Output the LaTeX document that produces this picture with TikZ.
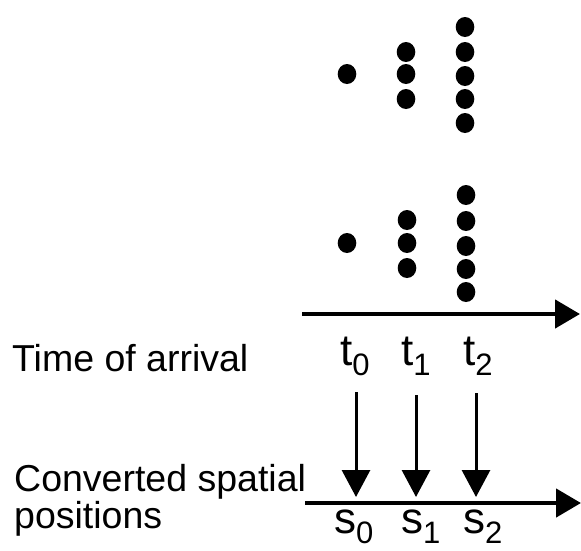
\documentclass[tikz,border=0pt]{standalone}
\usepackage{fontspec}
\setmainfont{Liberation Sans}
\usetikzlibrary{arrows.meta}
\newcommand{\sublbl}[2]{#1\raisebox{-10pt}{\fontsize{31}{31}\selectfont #2}}
\begin{document}
\begin{tikzpicture}[x=1pt,y=-1pt,
  dot/.style={fill=black},
  axis/.style={line width=4.6pt,-{Triangle[length=25pt,width=28pt]}},
  conv/.style={line width=3pt,-{Triangle[length=27pt,width=28pt]}},
  bigtext/.style={anchor=base west,inner sep=0pt,font=\fontsize{37.5}{37.5}\selectfont},
  tlabel/.style={anchor=base west,inner sep=0pt,font=\fontsize{44}{44}\selectfont}]
\useasboundingbox (0,0) rectangle (581,550);
% top group of dots
\foreach \x/\y in {347/74, 406/52, 406/74, 406/99, 465/27, 465/52, 465/76, 465/99, 465/123}
  \fill[dot] (\x,\y) ellipse [x radius=9.3, y radius=10];
% lower group of dots
\foreach \x/\y in {347/243, 407/220, 407/243, 407/268, 466/195, 466/221, 466/246, 466/269, 466/292}
  \fill[dot] (\x,\y) ellipse [x radius=9.3, y radius=10];
% time axis
\coordinate (ta0) at (302,314);
\coordinate (ta1) at (580,314);
\draw[axis] (ta0) -- (ta1);
% labels
\node[bigtext] (toa) at (12,371.5) {Time of arrival};
\node[bigtext] (conv1) at (14,491.5) {Converted spatial};
\node[bigtext] (conv2) at (14,528.5) {positions};
\node[tlabel] (t0) at (340,365) {\sublbl{t}{0}};
\node[tlabel] (t1) at (401,365) {\sublbl{t}{1}};
\node[tlabel] (t2) at (463,365) {\sublbl{t}{2}};
\node[tlabel] (s0) at (334,533) {\sublbl{s}{0}};
\node[tlabel] (s1) at (401,533) {\sublbl{s}{1}};
\node[tlabel] (s2) at (463,533) {\sublbl{s}{2}};
% conversion arrows
\coordinate (a0) at (356,392);
\coordinate (b0) at (356,497);
\coordinate (a1) at (416,395);
\coordinate (b1) at (416,497);
\coordinate (a2) at (476,393);
\coordinate (b2) at (476,497);
\draw[conv] (a0) -- (b0);
\draw[conv] (a1) -- (b1);
\draw[conv] (a2) -- (b2);
% space axis
\coordinate (sa0) at (305,503);
\coordinate (sa1) at (581,503);
\draw[axis] (sa0) -- (sa1);
\end{tikzpicture}
\end{document}
